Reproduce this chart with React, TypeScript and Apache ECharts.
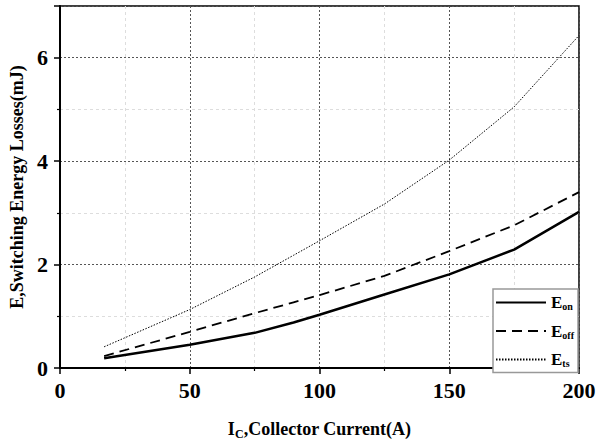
import React, { useEffect, useRef } from "react";
import * as echarts from "echarts";

const currents = [17, 50, 75, 90, 100, 125, 150, 175, 200];
const eOn = [0.19, 0.45, 0.68, 0.88, 1.03, 1.42, 1.81, 2.29, 3.02];
const eOff = [0.23, 0.70, 1.06, 1.27, 1.41, 1.78, 2.26, 2.76, 3.40];
const eTs = [0.41, 1.13, 1.76, 2.18, 2.46, 3.17, 4.02, 5.05, 6.43];
const seriesNames = ["Eon", "Eoff", "Ets"];
const legendLabels: Record<string, string> = {
  Eon: "{b|E}{s|on}",
  Eoff: "{b|E}{s|off}",
  Ets: "{b|E}{s|ts}",
};

const FONT = "'Liberation Serif', 'Times New Roman', serif";

export default function App() {
  const ref = useRef<HTMLDivElement>(null);
  useEffect(() => {
    if (!ref.current) return;
    const chart = echarts.init(ref.current, undefined, { renderer: "svg" });
    const pairs = (ys: number[]) => currents.map((x, i) => [x, ys[i]]);
    chart.setOption({
      animation: false,
      backgroundColor: "#fff",
      grid: {
        left: 60,
        right: 21,
        top: 6,
        bottom: 75,
        containLabel: false,
        outerBoundsMode: "none",
        show: true,
        borderColor: "#000",
        borderWidth: 1.5,
      },
      xAxis: {
        type: "value",
        min: 0,
        max: 200,
        interval: 50,
        name: "{a|I}{s|C}{a|,Collector Current(A)}",
        nameLocation: "middle",
        nameGap: 50,
        nameTextStyle: {
          rich: {
            a: { fontFamily: FONT, fontWeight: "bold", fontSize: 18, color: "#000", verticalAlign: "middle", lineHeight: 22 },
            s: { fontFamily: FONT, fontWeight: "bold", fontSize: 12, color: "#000", verticalAlign: "bottom", lineHeight: 12 },
          },
        },
        axisLine: { show: true, lineStyle: { color: "#000", width: 2 } },
        axisTick: { show: true, length: 6, lineStyle: { color: "#000", width: 1.5 } },
        minorTick: { show: true, splitNumber: 2, length: 3, lineStyle: { color: "#000", width: 1.2 } },
        axisLabel: { fontFamily: FONT, fontWeight: "bold", fontSize: 22, color: "#000", margin: 11 },
        splitLine: { show: true, lineStyle: { color: "#555", width: 1, type: [2, 2] } },
        minorSplitLine: { show: true, lineStyle: { color: "#ddd", width: 1, type: [3, 3] } },
      },
      yAxis: {
        type: "value",
        min: 0,
        max: 7,
        interval: 2,
        name: "E,Switching Energy Losses(mJ)",
        nameLocation: "middle",
        nameGap: 33,
        nameTextStyle: { fontFamily: FONT, fontWeight: "bold", fontSize: 18, color: "#000" },
        axisLine: { show: true, lineStyle: { color: "#000", width: 2 } },
        axisTick: { show: true, length: 6, lineStyle: { color: "#000", width: 1.5 } },
        minorTick: { show: true, splitNumber: 2, length: 3, lineStyle: { color: "#000", width: 1.2 } },
        axisLabel: {
          fontFamily: FONT,
          fontWeight: "bold",
          fontSize: 22,
          color: "#000",
          margin: 12,
          formatter: (v: number) => (v % 2 === 0 && v <= 6 ? String(v) : ""),
        },
        splitLine: { show: true, lineStyle: { color: "#555", width: 1, type: [2, 2] } },
        minorSplitLine: { show: true, lineStyle: { color: "#ddd", width: 1, type: [3, 3] } },
      },
      legend: {
        show: true,
        orient: "vertical",
        left: 493,
        top: 289,
        padding: [5, 4, 4, 2],
        itemWidth: 50,
        itemHeight: 14,
        itemGap: 11,
        backgroundColor: "#fff",
        borderColor: "#999",
        borderWidth: 1.5,
        data: seriesNames,
        itemStyle: { opacity: 0 },
        formatter: (name: string) => legendLabels[name],
        textStyle: {
          rich: {
            b: { fontFamily: FONT, fontWeight: "bold", fontSize: 17, color: "#000", verticalAlign: "middle", lineHeight: 18 },
            s: { fontFamily: FONT, fontWeight: "bold", fontSize: 10, color: "#000", verticalAlign: "bottom", lineHeight: 10 },
          },
        },
      },
      series: [
        {
          name: "Eon",
          type: "line",
          data: pairs(eOn),
          symbol: "none",
          lineStyle: { color: "#000", width: 2.5, type: "solid" },
          itemStyle: { color: "#000" },
          z: 5,
        },
        {
          name: "Eoff",
          type: "line",
          data: pairs(eOff),
          symbol: "none",
          lineStyle: { color: "#000", width: 1.8, type: [10, 6] },
          itemStyle: { color: "#000" },
          z: 5,
        },
        {
          name: "Ets",
          type: "line",
          data: pairs(eTs),
          symbol: "none",
          lineStyle: { color: "#000", width: 1, type: [1.5, 1.5] },
          itemStyle: { color: "#000" },
          z: 5,
        },
      ],
    });
    return () => chart.dispose();
  }, []);
  return <div ref={ref} style={{ width: 600, height: 443, position: "absolute", left: 0, top: 0 }} />;
}
